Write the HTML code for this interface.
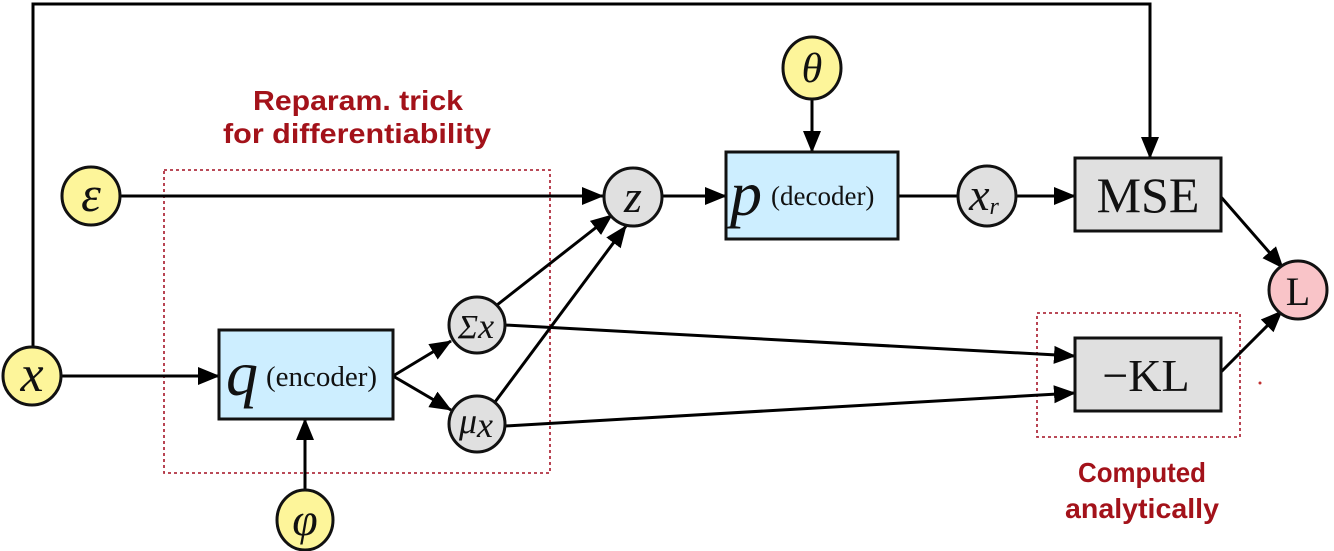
<!DOCTYPE html>
<html><head><meta charset="utf-8"><style>
html,body{margin:0;padding:0;background:#fff;width:1334px;height:551px;overflow:hidden}
svg{display:block}
.m{font-family:"Liberation Serif",serif;font-style:italic;fill:#111}
.s{font-family:"Liberation Serif",serif;fill:#111}
.r{font-family:"Liberation Sans",sans-serif;font-weight:bold;fill:#a3121a;font-size:28px}
</style></head><body>
<svg width="1334" height="551" viewBox="0 0 1334 551" xmlns="http://www.w3.org/2000/svg">
<defs>
<marker id="b" markerWidth="22" markerHeight="22" refX="21" refY="11" orient="auto" markerUnits="userSpaceOnUse" viewBox="0 0 22 22">
<path d="M0,2 L22,11 L0,20 z" fill="#000"/></marker>
</defs>
<rect x="164" y="170" width="386" height="303" fill="none" stroke="#b03040" stroke-width="1.8" stroke-dasharray="3,3"/>
<rect x="1037" y="313" width="203" height="124" fill="none" stroke="#b03040" stroke-width="1.8" stroke-dasharray="3,3"/>
<g stroke="#000" stroke-width="3" fill="none">
<polyline points="33,347 33,4 1150,4 1150,158" marker-end="url(#b)"/>
<line x1="120" y1="196" x2="603" y2="196" marker-end="url(#b)"/>
<line x1="497" y1="305" x2="612" y2="215" marker-end="url(#b)"/>
<line x1="495" y1="402" x2="626" y2="226" marker-end="url(#b)"/>
<line x1="662" y1="196" x2="726" y2="196" marker-end="url(#b)"/>
<line x1="898" y1="196" x2="958" y2="196"/>
<line x1="1016" y1="196" x2="1075" y2="196" marker-end="url(#b)"/>
<line x1="812" y1="99" x2="812" y2="152" marker-end="url(#b)"/>
<line x1="1221" y1="197" x2="1283" y2="268" marker-end="url(#b)"/>
<line x1="1221" y1="372" x2="1282" y2="311" marker-end="url(#b)"/>
<line x1="505" y1="325" x2="1075" y2="356" marker-end="url(#b)"/>
<line x1="505" y1="426" x2="1075" y2="393" marker-end="url(#b)"/>
<line x1="61" y1="376" x2="219" y2="376" marker-end="url(#b)"/>
<line x1="305" y1="491" x2="305" y2="419" marker-end="url(#b)"/>
<line x1="393" y1="376" x2="451" y2="341" marker-end="url(#b)"/>
<line x1="393" y1="376" x2="451" y2="410" marker-end="url(#b)"/>
</g>
<g stroke="#111" stroke-width="3">
<rect x="219" y="330" width="174" height="89" fill="#cdeeff"/>
<rect x="726" y="152" width="172" height="87" fill="#cdeeff"/>
<rect x="1075" y="158" width="146" height="73" fill="#e0e0e0"/>
<rect x="1075" y="338" width="146" height="73" fill="#e0e0e0"/>
<circle cx="32" cy="376" r="29" fill="#fdf59a"/>
<circle cx="91" cy="196" r="29" fill="#fdf59a"/>
<ellipse cx="305" cy="520" rx="28" ry="30" fill="#fdf59a"/>
<ellipse cx="812" cy="68" rx="29" ry="31" fill="#fdf59a"/>
<circle cx="477" cy="325" r="28" fill="#e0e0e0"/>
<circle cx="477" cy="424" r="28" fill="#e0e0e0"/>
<circle cx="633" cy="197" r="29" fill="#e0e0e0"/>
<ellipse cx="987" cy="196" rx="29" ry="30" fill="#e0e0e0"/>
<circle cx="1298" cy="290" r="29" fill="#f9c4c8"/>
</g>
<text class="m" x="32" y="391" font-size="52" text-anchor="middle">x</text>
<text class="m" x="91" y="211" font-size="50" text-anchor="middle">ε</text>
<text class="m" x="305" y="535" font-size="46" text-anchor="middle">φ</text>
<text class="m" x="812" y="82" font-size="42" text-anchor="middle">θ</text>
<text class="m" x="476" y="338" font-size="34" text-anchor="middle">Σ<tspan font-size="36">x</tspan></text>
<text class="m" x="476" y="433" font-size="36" text-anchor="middle">μ<tspan font-size="36" dy="4">x</tspan></text>
<text class="m" x="633" y="212" font-size="46" text-anchor="middle">z</text>
<text class="m" x="984" y="210" font-size="46" text-anchor="middle">x<tspan font-size="24" dy="4">r</tspan></text>
<text class="s" x="1298" y="305" font-size="40" text-anchor="middle">L</text>
<text class="m" x="226" y="395" font-size="64">q</text>
<text class="s" x="266" y="386" font-size="29">(encoder)</text>
<text class="m" x="730" y="215" font-size="64">p</text>
<text class="s" x="771" y="205" font-size="27">(decoder)</text>
<text class="s" x="1148" y="212" font-size="50" text-anchor="middle">MSE</text>
<text class="s" x="1146" y="391" font-size="46" text-anchor="middle">−KL</text>
<text class="r" x="358" y="110" text-anchor="middle" textLength="210" lengthAdjust="spacingAndGlyphs">Reparam. trick</text>
<text class="r" x="357" y="143" text-anchor="middle" textLength="268" lengthAdjust="spacingAndGlyphs">for differentiability</text>
<text class="r" x="1142" y="482" text-anchor="middle" textLength="128" lengthAdjust="spacingAndGlyphs">Computed</text>
<text class="r" x="1142" y="518" text-anchor="middle" textLength="154" lengthAdjust="spacingAndGlyphs">analytically</text>
<circle cx="1260" cy="383" r="1.5" fill="#c03030"/>
</svg>
</body></html>
